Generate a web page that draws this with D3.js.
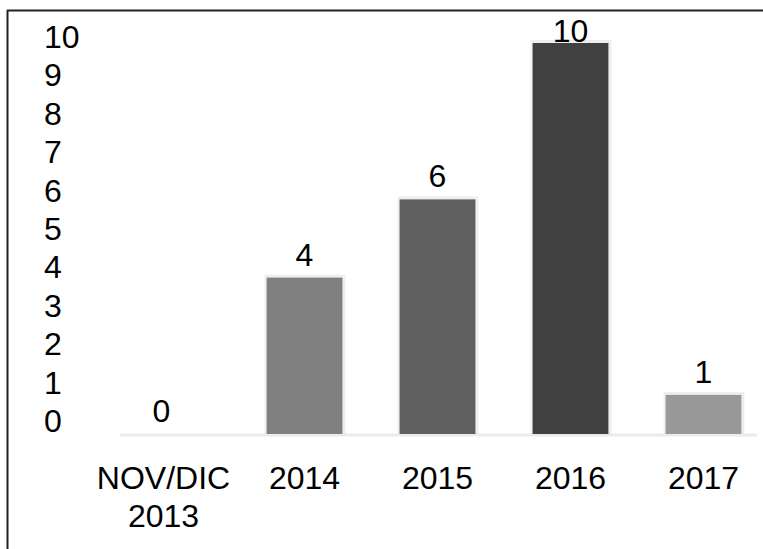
<!DOCTYPE html>
<html>
<head>
<meta charset="utf-8">
<script src="https://cdn.jsdelivr.net/npm/d3@7"></script>
<style>
  html, body { margin: 0; padding: 0; background: #fff; }
  svg { display: block; }
  text { font-family: "Liberation Sans", Arial, sans-serif; fill: #000; }
</style>
</head>
<body>
<svg id="chart" width="763" height="549"></svg>
<script>
// Periods shown along the bottom (first one wraps onto two lines)
const categories = ["NOV/DIC\n2013", "2014", "2015", "2016", "2017"];
// Count per period
const values = [0, 4, 6, 10, 1];
// Fill tone for each bar
const barColors = ["#d9d9d9", "#808080", "#5f5f5f", "#404040", "#999999"];
// Y axis labels
const yTicks = [0, 1, 2, 3, 4, 5, 6, 7, 8, 9, 10];

const svg = d3.select("#chart");

const baseY = 434, topY = 43;
const y = d3.scaleLinear().domain([0, 10]).range([baseY, topY]);
// Tick labels sit slightly above the gridline positions
const yLabel = y.copy().range([420, 36]);

const x = d3.scaleBand()
  .domain(categories)
  .range([107, 768])
  .paddingInner(0.43)
  .paddingOuter(0.2);

// Frame: top and left edges
svg.append("line").attr("x1", 7).attr("x2", 763).attr("y1", 10.5).attr("y2", 10.5)
  .attr("stroke", "#222").attr("stroke-width", 2);
svg.append("line").attr("x1", 7.5).attr("x2", 7.5).attr("y1", 10).attr("y2", 549)
  .attr("stroke", "#222").attr("stroke-width", 2);

// Baseline
svg.append("line").attr("x1", 120).attr("x2", 757).attr("y1", baseY + 1).attr("y2", baseY + 1)
  .attr("stroke", "#ebebeb").attr("stroke-width", 3);

// Y axis labels (no axis line, no ticks)
const yAxis = d3.axisLeft(yLabel).tickValues(yTicks).tickSize(0).tickPadding(0);
const yg = svg.append("g").attr("transform", "translate(44,0)").call(yAxis);
yg.select(".domain").remove();
yg.selectAll("text")
  .attr("text-anchor", "start")
  .attr("dy", "0.36em")
  .style("font-size", "32px")
  .style("font-family", "'Liberation Sans', Arial, sans-serif")
  .attr("fill", "#000");

// Soft halo behind each bar
svg.append("g").selectAll("rect.halo")
  .data(values.map((v, i) => ({ c: categories[i], v })))
  .join("rect")
  .attr("class", "halo")
  .attr("x", d => x(d.c) - 2)
  .attr("y", d => y(d.v) - 3)
  .attr("width", x.bandwidth() + 5)
  .attr("height", d => baseY - y(d.v) + 3)
  .attr("fill", "#d4d4d4")
  .attr("opacity", d => d.v === 0 ? 0 : 0.4);

// Bars
svg.append("g").selectAll("rect.bar")
  .data(values.map((v, i) => ({ c: categories[i], v, col: barColors[i] })))
  .join("rect")
  .attr("class", "bar")
  .attr("x", d => x(d.c))
  .attr("y", d => y(d.v))
  .attr("width", x.bandwidth())
  .attr("height", d => baseY - y(d.v))
  .attr("fill", d => d.col);

// Value labels above bars
svg.append("g").selectAll("text.val")
  .data(values.map((v, i) => ({ c: categories[i], v })))
  .join("text")
  .attr("class", "val")
  .attr("x", d => x(d.c) + x.bandwidth() / 2 - (d.v === 0 ? 10 : 0))
  .attr("y", d => Math.max(y(d.v) - 12, 42))
  .attr("text-anchor", "middle")
  .style("font-size", "32px")
  .text(d => d.v);

// Category labels
const cat = svg.append("g").selectAll("text.cat")
  .data(categories)
  .join("text")
  .attr("class", "cat")
  .attr("x", (d, i) => x(d) + x.bandwidth() / 2 - (i === 0 ? 8 : 0))
  .attr("y", 489)
  .attr("text-anchor", "middle")
  .style("font-size", "32px");
cat.selectAll("tspan")
  .data(d => d.split("\n"))
  .join("tspan")
  .attr("x", function () { return d3.select(this.parentNode).attr("x"); })
  .attr("dy", (d, i) => i === 0 ? 0 : 38)
  .text(d => d);
</script>
</body>
</html>
